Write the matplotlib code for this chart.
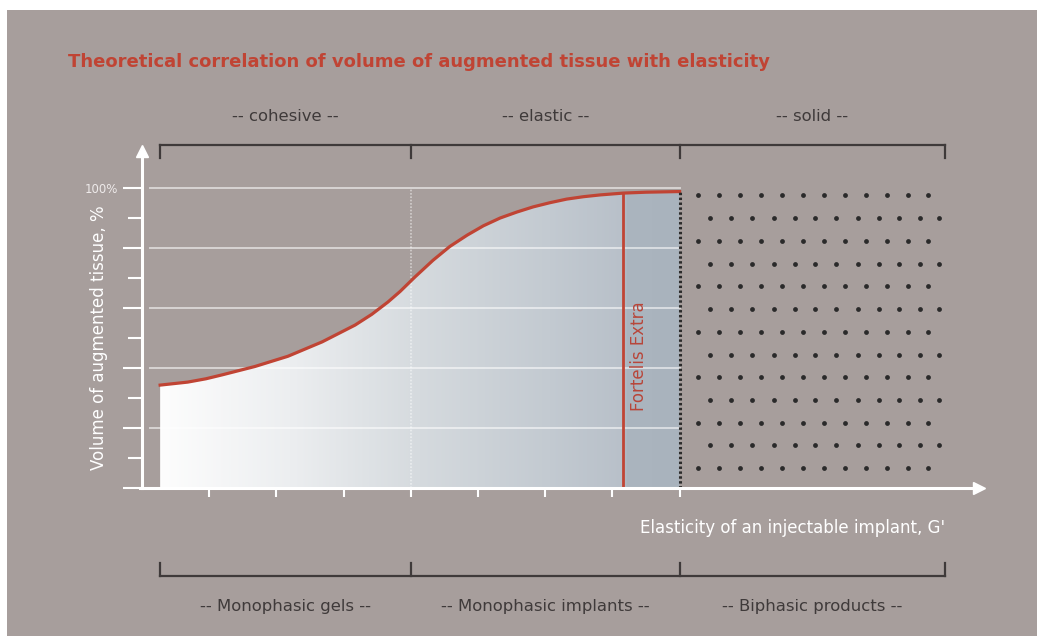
import numpy as np
import matplotlib
matplotlib.use("Agg")
import matplotlib.pyplot as plt
from matplotlib import font_manager
from matplotlib.colors import LinearSegmentedColormap
from matplotlib.patches import Rectangle, Polygon

# ---- data ----
title = "Theoretical correlation of volume of augmented tissue with elasticity"
top_labels = ["-- cohesive --", "-- elastic --", "-- solid --"]
bottom_labels = ["-- Monophasic gels --", "-- Monophasic implants --", "-- Biphasic products --"]
region_edges = [0.27, 4.0, 8.0, 11.95]          # elasticity units
x_ticks = [1, 2, 3, 4, 5, 6, 7, 8]
y_major = [0, 20, 40, 60, 80, 100]
y_minor = [10, 30, 50, 70, 90]
y_labels = ["", "", "", "", "", "100%"]

curve_x = [0.27, 0.68, 0.95, 1.19, 1.68, 2.17, 2.68, 3.17, 3.42, 3.66, 3.84, 4.06, 4.33,
           4.58, 4.84, 5.08, 5.33, 5.58, 5.82, 6.07, 6.32, 6.57, 6.82, 7.16, 7.5, 7.96]
curve_y = [34.3, 35.3, 36.4, 37.7, 40.5, 43.9, 48.7, 54.3, 57.9, 62.0, 65.5, 70.3, 75.9,
           80.5, 84.3, 87.4, 90.0, 92.0, 93.7, 95.1, 96.3, 97.1, 97.7, 98.3, 98.6, 98.8]

fortelis_x = 7.16
fortelis_label = "Fortelis Extra"

# solid region dot pattern (two staggered column sets)
dot_rows = [97.7, 90.0, 82.3, 74.7, 67.3, 59.7, 52.0, 44.3, 37.0, 29.3, 21.7, 14.3, 6.7]
dot_cols_a = [8.27, 8.59, 8.90, 9.21, 9.52, 9.84, 10.15, 10.46, 10.77, 11.09, 11.40, 11.70]
dot_cols_b = [8.45, 8.77, 9.08, 9.40, 9.71, 10.02, 10.33, 10.65, 10.96, 11.27, 11.58, 11.86]

x_label = "Elasticity of an injectable implant, G'"
y_label = "Volume of augmented tissue, %"

# ---- style ----
BG = "#a79e9c"
RED = "#c04434"
DARK = "#3f3a3a"
W, H = 1037, 636

names = {f.name for f in font_manager.fontManager.ttflist}
if "Liberation Sans Narrow" in names:
    NARROW, NS = "Liberation Sans Narrow", 1.0
else:
    NARROW, NS = "DejaVu Sans", 0.75

fig = plt.figure(figsize=(W / 100, H / 100), dpi=100)
fig.patch.set_facecolor("white")
fig.patches.append(Rectangle((7 / W, 0), 1 - 7 / W, 1 - 10 / H, transform=fig.transFigure,
                             facecolor=BG, edgecolor="none", zorder=-10))

ax = fig.add_axes([0, 0, 1, 1])
ax.set_facecolor("none")
# pixel mapping: x_px = 142 + 67.2*u, y_px = 488 - 3*v
ax.set_xlim(-142 / 67.2, (W - 142) / 67.2)
ax.set_ylim((488 - H) / 3, 488 / 3)

# gradient fill under the curve
grad_u = np.linspace(region_edges[0], region_edges[2], 400)
cmap = LinearSegmentedColormap.from_list("g", [
    (0.0, "#fdfdfd"), (0.25, "#eceef0"), (0.5, "#d5dade"),
    (0.75, "#c3cad1"), (0.895, "#b8c0c9"), (0.90, "#abb5bf"), (1.0, "#a9b3bd")])
img = ax.imshow(grad_u[None, :], extent=[region_edges[0], region_edges[2], 0, 100],
                aspect="auto", cmap=cmap, origin="lower", zorder=1, interpolation="bilinear")
poly = Polygon(list(zip(curve_x, curve_y)) + [(region_edges[2], curve_y[-1]),
                                              (region_edges[2], 0), (curve_x[0], 0)],
               closed=True, facecolor="none", edgecolor="none", transform=ax.transData)
ax.add_patch(poly)
img.set_clip_path(poly)

# horizontal grid lines
grid_x0 = (150 - 142) / 67.2
for g in y_major[1:]:
    ax.plot([grid_x0, region_edges[2]], [g, g], color="white", alpha=0.55, lw=1.4, zorder=2)
# faint dotted divider at the cohesive/elastic boundary
ax.plot([region_edges[1]] * 2, [0, 100], color="white", alpha=0.5, lw=1.2,
        ls=(0, (1, 1)), zorder=2)

# curve
ax.plot(curve_x + [region_edges[2]], curve_y + [curve_y[-1]], color=RED, lw=2.3,
        zorder=4, solid_joinstyle="round")

# Fortelis Extra marker line
f_top = np.interp(fortelis_x, curve_x, curve_y)
ax.plot([fortelis_x, fortelis_x], [0, f_top], color=RED, lw=2.0, zorder=4)
ax.text(fortelis_x + 0.24, 44, fortelis_label, rotation=90, color="#b8463a",
        fontsize=16 * NS, family=NARROW, ha="center", va="center", zorder=5)

# dotted boundary of the solid region
ax.plot([region_edges[2]] * 2, [0, curve_y[-1]], color="#2b2b2b", lw=2.2,
        ls=(0, (0.8, 0.8)), zorder=5)

# dot pattern
for i, ry in enumerate(dot_rows):
    cols = dot_cols_a if i % 2 == 0 else dot_cols_b
    ax.scatter(cols, [ry] * len(cols), s=12, color="#2a2a2a", zorder=5, linewidths=0)

# axes: spines through the origin
for s in ["top", "right"]:
    ax.spines[s].set_visible(False)
y_top = 112.5
x_end = 12.45
ax.spines["left"].set_position(("data", 0))
ax.spines["bottom"].set_position(("data", 0))
ax.spines["left"].set_bounds(0, y_top)
ax.spines["bottom"].set_bounds(-0.03, x_end)
for s in ["left", "bottom"]:
    ax.spines[s].set_color("white")
    ax.spines[s].set_linewidth(2.2)
    ax.spines[s].set_zorder(6)
ax.plot(0, y_top, marker="^", color="white", markersize=8, clip_on=False, zorder=7)
ax.plot(x_end, 0, marker=">", color="white", markersize=9, clip_on=False, zorder=7)

ax.set_xticks(x_ticks)
ax.set_xticklabels([])
ax.tick_params(axis="x", direction="out", length=6.5, width=1.5, color="white")
ax.set_yticks(y_major)
ax.set_yticklabels(y_labels, family=NARROW)
ax.set_yticks(y_minor, minor=True)
ax.tick_params(axis="y", which="major", direction="out", length=13.5, width=1.5,
               color="white", labelcolor="#eeeaea", labelsize=8.5, pad=4)
ax.tick_params(axis="y", which="minor", direction="out", length=10, width=1.5, color="white")
ax.tick_params(axis="x", which="minor", length=0)

# axis labels
ax.text(11.95, -13.3, x_label, color="white", fontsize=16 * NS, family=NARROW,
        ha="right", va="center")
ax.text(-0.64, 50.0, y_label, color="white", fontsize=16 * NS, family=NARROW,
        rotation=90, ha="center", va="center")

# title
ax.text(-1.10, 142, title, color=RED, fontsize=13, fontweight="bold",
        ha="left", va="center")

# brackets and region labels
def bracket(y_line, y_tick):
    ax.plot([region_edges[0], region_edges[-1]], [y_line, y_line], color=DARK, lw=1.6,
            clip_on=False, zorder=3)
    for e in region_edges:
        ax.plot([e, e], [y_line, y_tick], color=DARK, lw=1.6, clip_on=False, zorder=3)

bracket(114.3, 110.0)
bracket(-29.3, -25.0)
for i in range(3):
    mid = (region_edges[i] + region_edges[i + 1]) / 2
    ax.text(mid, 123.7, top_labels[i], color=DARK, fontsize=15.8 * NS, family=NARROW,
            ha="center", va="center")
    ax.text(mid, -39.5, bottom_labels[i], color=DARK, fontsize=15.8 * NS, family=NARROW,
            ha="center", va="center")

fig.savefig("out.png", dpi=100, facecolor=fig.get_facecolor())
